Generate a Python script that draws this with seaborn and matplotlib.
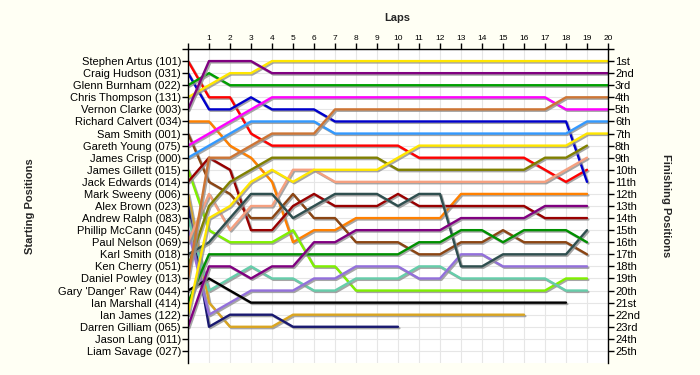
import pandas as pd
import matplotlib
matplotlib.use("Agg")
import matplotlib.pyplot as plt
import matplotlib.patheffects as pe
import seaborn as sns

# Starting grid order (top to bottom)
drivers = ["Stephen Artus (101)", "Craig Hudson (031)", "Glenn Burnham (022)",
           "Chris Thompson (131)", "Vernon Clarke (003)", "Richard Calvert (034)",
           "Sam Smith (001)", "Gareth Young (075)", "James Crisp (000)",
           "James Gillett (015)", "Jack Edwards (014)", "Mark Sweeny (006)",
           "Alex Brown (023)", "Andrew Ralph (083)", "Phillip McCann (045)",
           "Paul Nelson (069)", "Karl Smith (018)", "Ken Cherry (051)",
           "Daniel Powley (013)", "Gary 'Danger' Raw (044)", "Ian Marshall (414)",
           "Ian James (122)", "Darren Gilliam (065)", "Jason Lang (011)",
           "Liam Savage (027)"]

colors = ["#FF0000", "#0000CC", "#00A000", "#FFE600", "#800080", "#FF8000",
          "#8B4513", "#FF00FF", "#3399FF", "#80F000", "#990000", "#DAA520",
          "#191970", "#66CDAA", "#9370DB", "#F5A080", "#2F4F4F", "#808000",
          "#CD7535", "#000000", "#009000", "#FFE600", "#800080", "#808080",
          "#808080"]

finish_labels = ["1st", "2nd", "3rd", "4th", "5th", "6th", "7th", "8th", "9th",
                 "10th", "11th", "12th", "13th", "14th", "15th", "16th", "17th",
                 "18th", "19th", "20th", "21st", "22nd", "23rd", "24th", "25th"]

# position at the end of each lap, starting with lap 0 (the grid)
artus = [1, 4, 4, 7, 8, 8, 8, 8, 8, 8, 8, 9, 9, 9, 9, 9, 9, 10, 11, 10]
hudson = [2, 5, 5, 4, 5, 5, 5, 6, 6, 6, 6, 6, 6, 6, 6, 6, 6, 6, 6, 11]
burnham = [3, 2, 3, 3, 3, 3, 3, 3, 3, 3, 3, 3, 3, 3, 3, 3, 3, 3, 3, 3, 3]
thompson = [4, 3, 2, 2, 1, 1, 1, 1, 1, 1, 1, 1, 1, 1, 1, 1, 1, 1, 1, 1, 1]
clarke = [5, 1, 1, 1, 2, 2, 2, 2, 2, 2, 2, 2, 2, 2, 2, 2, 2, 2, 2, 2, 2]
calvert = [6, 6, 8, 9, 11, 16, 15, 15, 14, 14, 14, 14, 14, 12, 12, 12, 12, 12, 12, 12]
sam = [7, 11, 12, 14, 14, 12, 14, 14, 16, 16, 16, 17, 17, 16, 16, 15, 16, 16, 16, 17]
young = [8, 7, 6, 5, 4, 4, 4, 4, 4, 4, 4, 4, 4, 4, 4, 4, 4, 4, 5, 5, 5]
crisp = [9, 8, 7, 6, 6, 6, 6, 7, 7, 7, 7, 7, 7, 7, 7, 7, 7, 7, 7, 6, 6]
gillett = [10, 15, 16, 16, 16, 15, 18, 18, 20, 20, 20, 20, 20, 20, 20, 20, 20, 20, 19, 19]
edwards = [11, 9, 10, 15, 15, 13, 12, 13, 13, 13, 12, 13, 13, 13, 13, 13, 13, 14, 14, 14]
sweeny = [12, 21, 23, 23, 23, 22, 22, 22, 22, 22, 22, 22, 22, 22, 22, 22, 22]
brown = [13, 23, 22, 22, 22, 23, 23, 23, 23, 23, 23]
ralph = [14, 20, 19, 18, 19, 19, 20, 20, 19, 19, 19, 18, 18, 19, 19, 19, 19, 19, 20, 20]
mccann = [15, 22, 21, 20, 20, 20, 19, 19, 18, 18, 18, 19, 19, 17, 17, 18, 18, 18, 18, 18]
nelson = [16, 12, 15, 13, 13, 10, 10, 11, 11, 11, 11, 11, 11, 11, 11, 11, 11, 11, 10, 9]
karl = [17, 16, 14, 12, 12, 14, 13, 12, 12, 12, 13, 12, 12, 18, 18, 17, 17, 17, 17, 15]
cherry = [18, 13, 11, 10, 9, 9, 9, 9, 9, 9, 10, 10, 10, 10, 10, 10, 10, 9, 9, 8]
powley = [19, 9, 9, 8, 7, 7, 7, 5, 5, 5, 5, 5, 5, 5, 5, 5, 5, 5, 4, 4, 4]
raw = [20, 19, 20, 21, 21, 21, 21, 21, 21, 21, 21, 21, 21, 21, 21, 21, 21, 21, 21]
marshall = [21, 17, 17, 17, 17, 17, 17, 17, 17, 17, 17, 16, 16, 15, 15, 16, 15, 15, 15, 16]
ian_james = [22, 14, 13, 11, 10, 11, 10, 10, 10, 10, 9, 8, 8, 8, 8, 8, 8, 8, 8, 7, 7]
gilliam = [23, 18, 18, 19, 18, 18, 16, 16, 15, 15, 15, 15, 15, 14, 14, 14, 14, 13, 13, 13]

laps_pos = [artus, hudson, burnham, thompson, clarke, calvert, sam, young, crisp,
            gillett, edwards, sweeny, brown, ralph, mccann, nelson, karl, cherry,
            powley, raw, marshall, ian_james, gilliam]

rows = []
for name, pos in zip(drivers, laps_pos):
    for lap, p in enumerate(pos):
        rows.append({"driver": name, "lap": lap, "pos": p})
df = pd.DataFrame(rows)

sns.set_theme(style="whitegrid")
plt.rcParams["font.family"] = ["Liberation Sans", "DejaVu Sans"]

fig = plt.figure(figsize=(7, 3.75), dpi=100, facecolor="#FFFFF4")
ax = fig.add_axes([188 / 700, 0.032, 420 / 700, 314 / 375])
ax.set_facecolor("white")

started = drivers[:len(laps_pos)]
sns.lineplot(data=df, x="lap", y="pos", hue="driver", hue_order=started,
             palette=dict(zip(drivers, colors)), estimator=None, sort=False,
             legend=False, linewidth=1.7, ax=ax)
for line in ax.get_lines():
    line.set_path_effects([pe.SimpleLineShadow(offset=(1, -1), shadow_color="#909090", alpha=0.8),
                           pe.Normal()])

ax.set_xlim(0, 20)
ax.set_ylim(26, 0)
ax.grid(True, color="#E6E6E6", linewidth=0.8)
ax.set_axisbelow(True)

# laps along the top
ax.set_xticks(range(21))
ax.set_xticklabels([""] + [str(i) for i in range(1, 21)])
ax.xaxis.tick_top()
ax.set_xlabel("")
ax.tick_params(axis="x", top=True, bottom=False, labelsize=6, length=4, width=1,
               color="black", pad=1, labelcolor="black")

# starting positions on the left
ax.set_yticks(range(26))
ax.set_yticklabels([""] + drivers)
ax.set_ylabel("")
ax.tick_params(axis="y", left=True, labelsize=8, length=4, width=1, color="black",
               pad=1, labelcolor="black")

for side in ["left", "top", "right"]:
    ax.spines[side].set_color("black")
    ax.spines[side].set_linewidth(1)
ax.spines["bottom"].set_visible(False)

# finishing positions on the right
ax2 = ax.twinx()
ax2.set_ylim(26, 0)
ax2.set_yticks(range(26))
ax2.set_yticklabels([""] + finish_labels)
ax2.grid(False)
ax2.tick_params(axis="y", right=True, labelsize=8, length=4, width=1, color="black",
                pad=1, labelcolor="black")
for side in ["left", "top", "right", "bottom"]:
    ax2.spines[side].set_visible(False)

fig.text(397 / 700, 1 - 18 / 375, "Laps", ha="center", va="center",
         fontsize=8, fontweight="bold")
fig.text(30 / 700, 1 - 206 / 375, "Starting Positions", ha="center", va="center",
         rotation=90, fontsize=8, fontweight="bold")
fig.text(666 / 700, 1 - 206 / 375, "Finishing Positions", ha="center", va="center",
         rotation=270, fontsize=8, fontweight="bold")

fig.savefig("out.png", dpi=100, facecolor=fig.get_facecolor())
